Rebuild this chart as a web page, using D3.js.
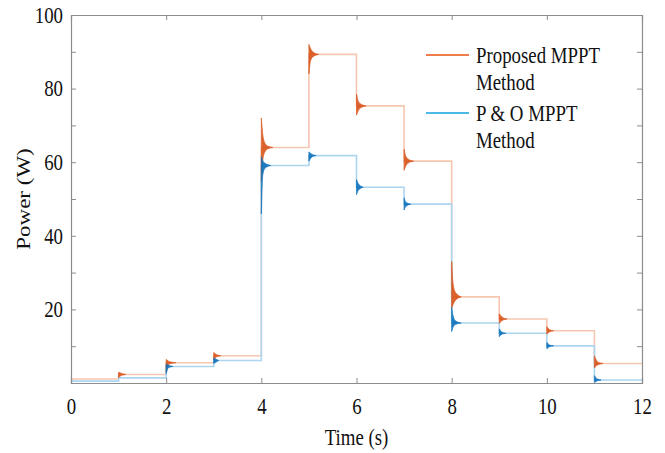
<!DOCTYPE html>
<html>
<head>
<meta charset="utf-8">
<script src="https://cdn.jsdelivr.net/npm/d3@7"></script>
<style>
  body { margin: 0; background: #fff; }
  text { font-family: "Liberation Serif", "Times New Roman", serif; fill: #111; }
</style>
</head>
<body>
<svg id="chart" width="665" height="453"></svg>
<script>
// step levels per second, t = 0..12
const stepStarts = [0, 1, 2, 3, 4, 5, 6, 7, 8, 9, 10, 11];
const proposedLevels = [1.1, 2.3, 5.5, 7.4, 64, 89.3, 75.3, 60.3, 23.4, 17.4, 14.2, 5.3];
const poLevels = [0.5, 1.4, 4.5, 6.1, 59.1, 61.8, 53.2, 48.6, 16.3, 13.5, 10.1, 0.8];

// oscillation envelopes after each step: [time offset, upper, lower]
const proposedSpikes = [
  { t: 1, pts: [[0, 2.9, 1.4], [0.06, 2.6, 2.1], [0.15, 2.3, 2.3]] },
  { t: 2, pts: [[0, 6.4, 3.0], [0.04, 6.0, 4.9], [0.1, 5.7, 5.3], [0.2, 5.5, 5.5]] },
  { t: 3, pts: [[0, 8.3, 6.4], [0.06, 7.7, 7.1], [0.15, 7.4, 7.4]] },
  { t: 4, pts: [[0, 72, 55], [0.03, 67.5, 60.5], [0.07, 65.3, 62.7], [0.13, 64.4, 63.6], [0.24, 64, 64]] },
  { t: 5, pts: [[0, 92, 84], [0.03, 91, 87.3], [0.08, 90, 88.6], [0.2, 89.3, 89.3]] },
  { t: 6, pts: [[0, 78.5, 72.8], [0.03, 76.8, 73.8], [0.08, 75.9, 74.7], [0.2, 75.3, 75.3]] },
  { t: 7, pts: [[0, 63.5, 57.8], [0.03, 61.8, 58.8], [0.08, 60.9, 59.7], [0.2, 60.3, 60.3]] },
  { t: 8, pts: [[0, 33, 20.3], [0.03, 27, 21.3], [0.08, 24.6, 22.5], [0.2, 23.4, 23.4]] },
  { t: 9, pts: [[0, 18.8, 16.2], [0.06, 17.9, 17.0], [0.16, 17.4, 17.4]] },
  { t: 10, pts: [[0, 15.3, 13.3], [0.06, 14.5, 13.9], [0.14, 14.2, 14.2]] },
  { t: 11, pts: [[0, 7.4, 4.1], [0.05, 6.0, 4.8], [0.1, 5.5, 5.1], [0.18, 5.3, 5.3]] }
];
const poSpikes = [
  { t: 2, pts: [[0, 5.1, 2.5], [0.05, 4.8, 4.2], [0.14, 4.5, 4.5]] },
  { t: 3, pts: [[0, 6.8, 5.3], [0.1, 6.1, 6.1]] },
  { t: 4, pts: [[0, 61.5, 46], [0.03, 60.4, 56.5], [0.08, 59.7, 58.4], [0.2, 59.1, 59.1]] },
  { t: 5, pts: [[0, 62.8, 60.3], [0.07, 62.1, 61.5], [0.15, 61.8, 61.8]] },
  { t: 6, pts: [[0, 55.3, 51.2], [0.04, 54.1, 52.4], [0.14, 53.2, 53.2]] },
  { t: 7, pts: [[0, 50.3, 47.0], [0.04, 49.1, 48.0], [0.14, 48.6, 48.6]] },
  { t: 8, pts: [[0, 20.5, 14.0], [0.03, 18.2, 15.2], [0.08, 16.9, 15.9], [0.2, 16.3, 16.3]] },
  { t: 9, pts: [[0, 14.7, 12.6], [0.06, 13.8, 13.3], [0.14, 13.5, 13.5]] },
  { t: 10, pts: [[0, 11.0, 9.3], [0.06, 10.3, 9.9], [0.14, 10.1, 10.1]] },
  { t: 11, pts: [[0, 2.0, 0.1], [0.06, 1.1, 0.6], [0.14, 0.8, 0.8]] }
];

const xTicks = [0, 2, 4, 6, 8, 10, 12];
const yTicks = [0, 10, 20, 30, 40, 50, 60, 70, 80, 90, 100];
const yLabels = [20, 40, 60, 80, 100];
const legendNames = ["Proposed MPPT|Method", "P & O MPPT|Method"];

const W = 665, H = 453;
const margin = { top: 15, right: 23, bottom: 70, left: 71 };
const SX = 0.82; // condensed text look

const svg = d3.select('#chart');
svg.append('rect').attr('width', W).attr('height', H).attr('fill', '#fff');

const x = d3.scaleLinear().domain([0, 12]).range([margin.left, W - margin.right]);
const y = d3.scaleLinear().domain([0, 100]).range([H - margin.bottom, margin.top]);

const series = [
  { levels: proposedLevels, spikes: proposedSpikes, line: '#f6c6b0', dark: '#d95319', key: '#ef7d4b' },
  { levels: poLevels, spikes: poSpikes, line: '#acd5ef', dark: '#0b70bb', key: '#4bb8e8' }
];

const stepLine = d3.line()
  .x(d => x(d[0]))
  .y(d => y(d[1]))
  .curve(d3.curveStepAfter);

const spikeArea = d3.area()
  .x(d => x(d[0]))
  .y0(d => y(d[2]))
  .y1(d => y(d[1]))
  .curve(d3.curveMonotoneX);

const plot = svg.append('g');

series.forEach(s => {
  const pts = stepStarts.map((t, i) => [t, s.levels[i]]);
  pts.push([12, s.levels[s.levels.length - 1]]);
  plot.append('path')
    .attr('d', stepLine(pts))
    .attr('fill', 'none')
    .attr('stroke', s.line)
    .attr('stroke-width', 1.6);
});

series.forEach(s => {
  s.spikes.forEach(sp => {
    const pts = sp.pts.map(p => [sp.t + p[0], p[1], p[2]]);
    plot.append('path')
      .attr('d', spikeArea(pts))
      .attr('fill', s.dark)
      .attr('stroke', s.dark)
      .attr('stroke-width', 0.8)
      .attr('opacity', 0.9);
  });
});

// axes box
const axisColor = '#8c8c8c';
const tickLen = 5;

const gx = svg.append('g')
  .attr('transform', `translate(0,${y(0)})`)
  .call(d3.axisBottom(x).tickValues(xTicks).tickSize(-tickLen).tickPadding(14).tickFormat(d3.format('d')));
const gxTop = svg.append('g')
  .attr('transform', `translate(0,${y(100)})`)
  .call(d3.axisTop(x).tickValues(xTicks).tickSize(-tickLen).tickFormat(''));
const gy = svg.append('g')
  .attr('transform', `translate(${x(0)},0)`)
  .call(d3.axisLeft(y).tickValues(yTicks).tickSize(-tickLen).tickPadding(13)
    .tickFormat(d => yLabels.includes(d) ? d : ''));
const gyRight = svg.append('g')
  .attr('transform', `translate(${x(12)},0)`)
  .call(d3.axisRight(y).tickValues(yTicks).tickSize(-tickLen).tickFormat(''));

[gx, gxTop, gy, gyRight].forEach(g => {
  g.select('.domain').attr('stroke', axisColor).attr('stroke-width', 1.2);
  g.selectAll('.tick line').attr('stroke', axisColor);
  g.selectAll('.tick text')
    .attr('font-family', '"Liberation Serif", serif')
    .attr('font-size', 23)
    .attr('fill', '#111');
});
gx.selectAll('.tick text').attr('transform', `scale(${SX},1)`).attr('dy', '0.72em');
gy.selectAll('.tick text')
  .attr('x', -8 / SX)
  .attr('transform', `scale(${SX},1)`);

// axis titles
svg.append('text')
  .attr('transform', `translate(${(x(0) + x(12)) / 2},445) scale(${SX},1)`)
  .attr('text-anchor', 'middle')
  .attr('font-size', 23)
  .text('Time (s)');

svg.append('text')
  .attr('transform', `translate(30,${(y(0) + y(100)) / 2}) rotate(-90) scale(1,${SX})`)
  .attr('text-anchor', 'middle')
  .attr('font-size', 23)
  .text('Power (W)');

// legend
const legend = svg.append('g');
const legendTop = [55, 113];
series.forEach((s, i) => {
  const ly = legendTop[i];
  legend.append('line')
    .attr('x1', 426).attr('x2', 469)
    .attr('y1', ly).attr('y2', ly)
    .attr('stroke', s.key).attr('stroke-width', 1.8);
  legendNames[i].split('|').forEach((part, j) => {
    legend.append('text')
      .attr('transform', `translate(476,${ly + 8 + j * 27}) scale(${SX},1)`)
      .attr('font-size', 23)
      .text(part);
  });
});
</script>
</body>
</html>
